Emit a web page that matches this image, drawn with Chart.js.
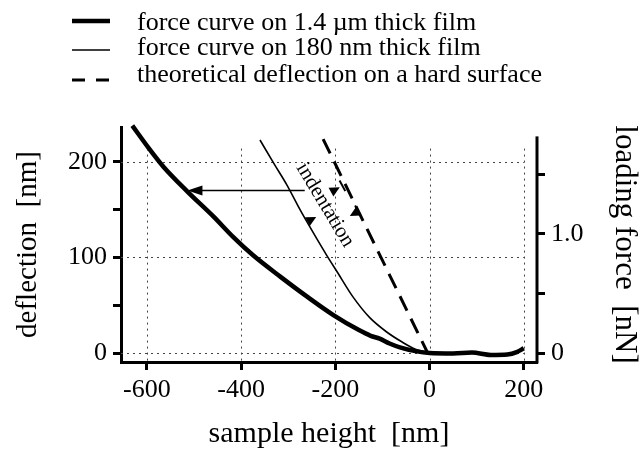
<!DOCTYPE html>
<html>
<head>
<meta charset="utf-8">
<script src="https://cdn.jsdelivr.net/npm/chart.js@4.4.1/dist/chart.umd.min.js"></script>
<style>
  html, body { margin: 0; padding: 0; background: #fff; }
</style>
</head>
<body>
<canvas id="force-chart" width="642" height="457"></canvas>
<script>
// sample height [nm] -> cantilever deflection [nm]
const thickX = [-631, -597, -565, -514, -459, -416, -374, -317, -260, -205, -150, -125, -106, -85, -63, -30, 0, 50, 90, 130, 165, 185, 200];
const thickY = [238, 215, 195, 169, 143, 121, 102, 80, 59, 40, 24, 18, 15, 10, 6, 2, 0, -0.5, 0.5, -2, -1.5, 1, 5];

const thinX = [-360, -330, -303, -275, -247, -218, -195, -163, -127, -91, -60, -30, 0, 20];
const thinY = [223, 198, 176, 150, 126, 102, 84, 59, 37, 22, 12, 4, 0.5, 0];

const hardX = [-226, -4];
const hardY = [224, 0];

const seriesLabels = [
  "force curve on 1.4 \u00b5m thick film",
  "force curve on 180 nm thick film",
  "theoretical deflection on a hard surface",
];

const xTicks = [-600, -400, -200, 0, 200];
const yTicks = [0, 50, 100, 150, 200];
const yTickLabels = ["0", "", "100", "", "200"];
const forceTicks = [0, 0.5, 1.0, 1.5];
const forceTickLabels = ["0", "", "1.0", ""];

const xMin = -655, xMax = 228;
const yMin = -9.4, yMax = 236.6;
const nmPerNN = 124.6; // deflection that equals 1 nN loading force
const gridTop = 214;

const serif = "'Liberation Serif', 'Times New Roman', serif";

function pts(xs, ys) {
  return xs.map((x, i) => ({ x: x, y: ys[i] }));
}

const extras = {
  id: "extras",
  beforeDatasetsDraw(chart) {
    const { ctx, chartArea } = chart;
    const x = chart.scales.x, y = chart.scales.y;
    ctx.save();
    ctx.strokeStyle = "#444";
    ctx.lineWidth = 1;
    ctx.setLineDash([2, 4]);
    const top = y.getPixelForValue(gridTop);
    const right = x.getPixelForValue(200);
    xTicks.forEach(v => {
      const px = Math.round(x.getPixelForValue(v)) + 0.5;
      ctx.beginPath();
      ctx.moveTo(px, top);
      ctx.lineTo(px, chartArea.bottom);
      ctx.stroke();
    });
    yTicks.forEach((v, i) => {
      if (!yTickLabels[i]) return;
      const py = Math.round(y.getPixelForValue(v)) + 0.5;
      ctx.beginPath();
      ctx.moveTo(chartArea.left, py);
      ctx.lineTo(right, py);
      ctx.stroke();
    });
    ctx.restore();
  },
  afterDraw(chart) {
    const { ctx, chartArea } = chart;
    const x = chart.scales.x, y = chart.scales.y, y2 = chart.scales.y2;
    ctx.save();

    // right axis line
    ctx.strokeStyle = "#000";
    ctx.lineWidth = 3;
    ctx.beginPath();
    ctx.moveTo(chartArea.right, y2.getPixelForValue(1.82));
    ctx.lineTo(chartArea.right, chartArea.bottom + 1.5);
    ctx.stroke();

    // legend
    const rows = [21, 50, 80];
    const bases = [30, 55, 82];
    ctx.font = "26px " + serif;
    ctx.fillStyle = "#000";
    ctx.textBaseline = "alphabetic";
    chart.data.datasets.forEach((ds, i) => {
      ctx.lineWidth = ds.borderWidth;
      ctx.setLineDash(i === 2 ? [13, 11] : []);
      ctx.beginPath();
      ctx.moveTo(72, rows[i]);
      ctx.lineTo(110, rows[i]);
      ctx.stroke();
      ctx.fillText(ds.label, 137, bases[i]);
    });
    ctx.setLineDash([]);

    // arrow from the thin curve to the thick curve
    const ay = y.getPixelForValue(170);
    const ax0 = x.getPixelForValue(-265);
    const ax1 = x.getPixelForValue(-514);
    ctx.lineWidth = 1.5;
    ctx.beginPath();
    ctx.moveTo(ax0, ay);
    ctx.lineTo(ax1 + 12, ay);
    ctx.stroke();
    ctx.beginPath();
    ctx.moveTo(ax1, ay);
    ctx.lineTo(ax1 + 15, ay - 5);
    ctx.lineTo(ax1 + 15, ay + 5);
    ctx.closePath();
    ctx.fill();

    // indentation markers
    function tri(px, py, ang) {
      ctx.save();
      ctx.translate(px, py);
      ctx.rotate(ang);
      ctx.beginPath();
      ctx.moveTo(5, 0);
      ctx.lineTo(-5, -5);
      ctx.lineTo(-5, 5);
      ctx.closePath();
      ctx.fill();
      ctx.restore();
    }
    function bar(px, py, ang) {
      ctx.save();
      ctx.translate(px, py);
      ctx.rotate(ang);
      ctx.lineWidth = 2;
      ctx.beginPath();
      ctx.moveTo(0, -6);
      ctx.lineTo(0, 6);
      ctx.stroke();
      ctx.restore();
    }
    const r = -0.5;
    tri(x.getPixelForValue(-200), y.getPixelForValue(171), r);
    bar(x.getPixelForValue(-185), y.getPixelForValue(175), r);
    tri(x.getPixelForValue(-250), y.getPixelForValue(140), r);
    tri(x.getPixelForValue(-160), y.getPixelForValue(146), Math.PI + r);
    bar(x.getPixelForValue(-152), y.getPixelForValue(149), r);

    // indentation label
    ctx.save();
    ctx.translate(x.getPixelForValue(-222), y.getPixelForValue(155));
    ctx.rotate(59 * Math.PI / 180);
    ctx.font = "21px " + serif;
    ctx.textAlign = "center";
    ctx.textBaseline = "middle";
    ctx.fillText("indentation", 0, 0);
    ctx.restore();

    ctx.restore();
  }
};

const tickFont = { family: serif, size: 26 };

new Chart(document.getElementById("force-chart"), {
  type: "line",
  data: {
    datasets: [
      {
        label: seriesLabels[0],
        data: pts(thickX, thickY),
        borderColor: "#000",
        borderWidth: 4.5,
        pointRadius: 0,
        cubicInterpolationMode: "monotone",
        clip: false,
      },
      {
        label: seriesLabels[1],
        data: pts(thinX, thinY),
        borderColor: "#000",
        borderWidth: 1.6,
        pointRadius: 0,
        cubicInterpolationMode: "monotone",
      },
      {
        label: seriesLabels[2],
        data: pts(hardX, hardY),
        borderColor: "#000",
        borderWidth: 3,
        borderDash: [16, 9],
        pointRadius: 0,
        tension: 0,
      },
    ],
  },
  options: {
    responsive: false,
    animation: false,
    events: [],
    layout: { padding: { top: 127, left: 0, right: 0, bottom: 0 } },
    plugins: {
      legend: { display: false },
      tooltip: { enabled: false },
    },
    scales: {
      x: {
        type: "linear",
        min: xMin,
        max: xMax,
        afterFit: s => { s.height = 95; },
        afterBuildTicks: s => { s.ticks = xTicks.map(v => ({ value: v })); },
        ticks: { font: tickFont, color: "#000", padding: 5, maxRotation: 0 },
        grid: { display: true, drawOnChartArea: false, tickLength: 8, tickWidth: 3, tickColor: "#000" },
        border: { display: true, width: 3, color: "#000" },
        title: {
          display: true,
          text: "sample height  [nm]",
          color: "#000",
          font: { family: serif, size: 30, lineHeight: 1 },
          padding: { top: 0, bottom: 8 },
        },
      },
      y: {
        type: "linear",
        position: "left",
        min: yMin,
        max: yMax,
        afterFit: s => { s.width = 121; },
        afterBuildTicks: s => { s.ticks = yTicks.map(v => ({ value: v })); },
        ticks: {
          font: tickFont,
          color: "#000",
          padding: 6,
          callback: (v) => yTickLabels[yTicks.indexOf(v)],
        },
        grid: { display: true, drawOnChartArea: false, tickLength: 8, tickWidth: 3, tickColor: "#000" },
        border: { display: true, width: 3, color: "#000" },
        title: {
          display: true,
          text: "deflection  [nm]",
          color: "#000",
          font: { family: serif, size: 29, lineHeight: 1 },
          padding: { top: 13.5, bottom: 0 },
        },
      },
      y2: {
        type: "linear",
        position: "right",
        min: yMin / nmPerNN,
        max: yMax / nmPerNN,
        afterFit: s => { s.width = 105; },
        afterBuildTicks: s => { s.ticks = forceTicks.map(v => ({ value: v })); },
        ticks: {
          font: tickFont,
          color: "#000",
          padding: 6,
          callback: (v) => forceTickLabels[forceTicks.indexOf(v)],
        },
        grid: { display: true, drawOnChartArea: false, tickLength: 8, tickWidth: 3, tickColor: "#000" },
        border: { display: false },
        title: {
          display: true,
          text: "loading force  [nN]",
          color: "#000",
          font: { family: serif, size: 31, lineHeight: 1 },
          padding: { top: 2.5, bottom: 0 },
        },
      },
    },
  },
  plugins: [extras],
});
</script>
</body>
</html>
